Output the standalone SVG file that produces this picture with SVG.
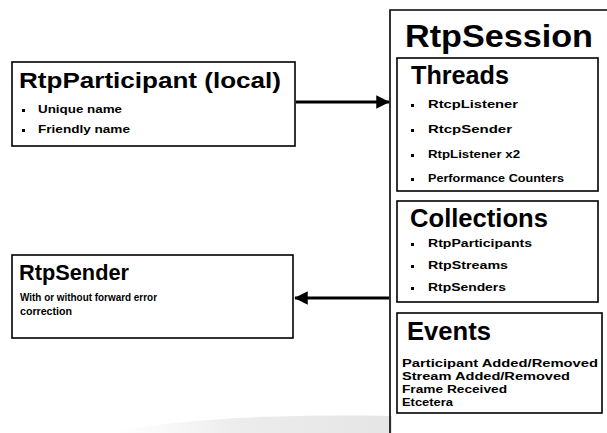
<svg xmlns="http://www.w3.org/2000/svg" width="607" height="433" viewBox="0 0 607 433">
  <defs>
    <style>
      .box { fill: #fff; stroke: #000; stroke-width: 1.6; }
      .frame { fill: none; stroke: #000; stroke-width: 1.6; }
      .title { font-family: "Liberation Sans", Arial, sans-serif; font-weight: bold; fill: #000; }
      .item { font-family: "Liberation Sans", Arial, sans-serif; font-weight: bold; font-size: 10.5px; fill: #000; }
      .dot { fill: #000; }
      .link { stroke: #000; stroke-width: 3.2; fill: none; }
    </style>
    <marker id="arrowhead" viewBox="0 0 10 10" refX="9.5" refY="5" markerWidth="5.5" markerHeight="4.2" markerUnits="strokeWidth" orient="auto">
      <path d="M0,0 L10,5 L0,10 Z" fill="#000"/>
    </marker>
    <linearGradient id="floorShade" x1="0" y1="0" x2="1" y2="0">
      <stop offset="0" stop-color="#f2f2f2" stop-opacity="0"/>
      <stop offset="0.45" stop-color="#ececec"/>
      <stop offset="1" stop-color="#e6e6e6"/>
    </linearGradient>
  </defs>

  <rect width="607" height="433" fill="#fff"/>

  <!-- soft floor shading under the session frame -->
  <path d="M110,433 C170,420 260,414 392,416 L392,433 Z" fill="url(#floorShade)"/>

  <!-- Session container: open on the right and bottom -->
  <g id="rtp-session">
    <path class="frame" d="M390,433 L390,10 L607,10"/>
    <text class="title" x="405" y="47" font-size="32" textLength="188" lengthAdjust="spacingAndGlyphs">RtpSession</text>

    <g id="threads">
      <rect class="box" x="397" y="58" width="201" height="133"/>
      <text class="title" x="411" y="84" font-size="25" textLength="98" lengthAdjust="spacingAndGlyphs">Threads</text>
      <rect class="dot" x="411" y="104" width="3" height="3"/>
      <text class="item" x="428" y="108" textLength="90" lengthAdjust="spacingAndGlyphs">RtcpListener</text>
      <rect class="dot" x="411" y="129" width="3" height="3"/>
      <text class="item" x="428" y="133" textLength="84" lengthAdjust="spacingAndGlyphs">RtcpSender</text>
      <rect class="dot" x="411" y="154" width="3" height="3"/>
      <text class="item" x="428" y="158" textLength="92" lengthAdjust="spacingAndGlyphs">RtpListener x2</text>
      <rect class="dot" x="411" y="178" width="3" height="3"/>
      <text class="item" x="428" y="182" textLength="136" lengthAdjust="spacingAndGlyphs">Performance Counters</text>
    </g>

    <g id="collections">
      <rect class="box" x="397" y="201" width="201" height="101"/>
      <text class="title" x="410" y="227" font-size="25" textLength="138" lengthAdjust="spacingAndGlyphs">Collections</text>
      <rect class="dot" x="411" y="243" width="3" height="3"/>
      <text class="item" x="428" y="247" textLength="104" lengthAdjust="spacingAndGlyphs">RtpParticipants</text>
      <rect class="dot" x="411" y="265" width="3" height="3"/>
      <text class="item" x="428" y="269" textLength="80" lengthAdjust="spacingAndGlyphs">RtpStreams</text>
      <rect class="dot" x="411" y="287" width="3" height="3"/>
      <text class="item" x="428" y="291" textLength="78" lengthAdjust="spacingAndGlyphs">RtpSenders</text>
    </g>

    <g id="events">
      <rect class="box" x="397" y="313" width="205" height="100"/>
      <text class="title" x="407" y="340" font-size="25" textLength="84" lengthAdjust="spacingAndGlyphs">Events</text>
      <text class="item" x="402" y="367" textLength="196" lengthAdjust="spacingAndGlyphs">Participant Added/Removed</text>
      <text class="item" x="402" y="380" textLength="168" lengthAdjust="spacingAndGlyphs">Stream Added/Removed</text>
      <text class="item" x="402" y="393" textLength="105" lengthAdjust="spacingAndGlyphs">Frame Received</text>
      <text class="item" x="402" y="406" textLength="51" lengthAdjust="spacingAndGlyphs">Etcetera</text>
    </g>
  </g>

  <g id="rtp-participant">
    <rect class="box" x="12" y="62" width="283" height="84"/>
    <text class="title" x="19" y="88" font-size="22" textLength="262" lengthAdjust="spacingAndGlyphs">RtpParticipant (local)</text>
    <rect class="dot" x="22" y="109" width="3" height="3"/>
    <text class="item" x="38" y="113" textLength="84" lengthAdjust="spacingAndGlyphs">Unique name</text>
    <rect class="dot" x="22" y="129" width="3" height="3"/>
    <text class="item" x="38" y="133" textLength="92" lengthAdjust="spacingAndGlyphs">Friendly name</text>
  </g>

  <g id="rtp-sender">
    <rect class="box" x="12" y="255" width="281" height="83"/>
    <text class="title" x="19" y="280" font-size="22" textLength="110" lengthAdjust="spacingAndGlyphs">RtpSender</text>
    <text class="item" x="20" y="301" textLength="137" lengthAdjust="spacingAndGlyphs">With or without forward error</text>
    <text class="item" x="20" y="315" textLength="52" lengthAdjust="spacingAndGlyphs">correction</text>
  </g>

  <!-- connectors -->
  <g id="connectors">
    <line class="link" x1="296" y1="102" x2="389" y2="102" marker-end="url(#arrowhead)"/>
    <line class="link" x1="389" y1="298" x2="295" y2="298" marker-end="url(#arrowhead)"/>
  </g>
</svg>
